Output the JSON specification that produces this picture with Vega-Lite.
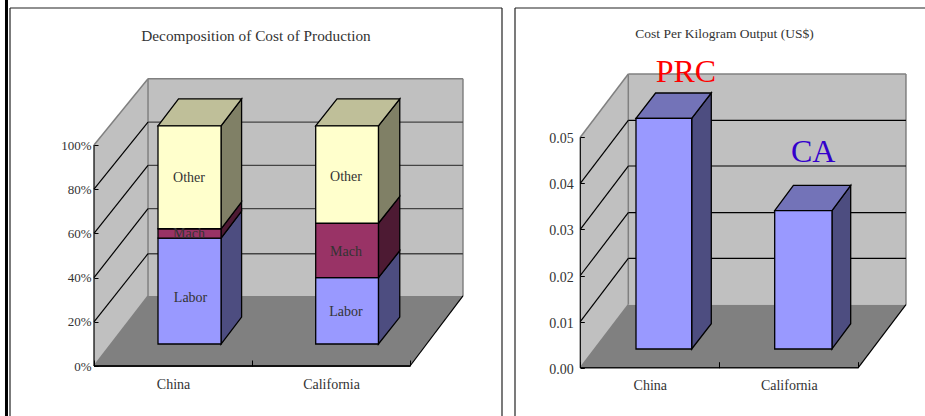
{
"$schema":"https://vega.github.io/schema/vega-lite/v6.json",
"padding":{"left":0,"top":-6,"right":0,"bottom":0},
"spacing":7,
"config":{"view":{"stroke":null},"font":"Liberation Serif"},
"datasets":{
"lWalls":[{"id":"side","tone":"wall","x":0,"y":0,"y2":100},{"id":"side","tone":"wall","x":0.3418,"y":31.7,"y2":130},{"id":"back","tone":"wall","x":0.3418,"y":31.7,"y2":130},{"id":"back","tone":"wall","x":2.335,"y":31.7,"y2":130}],
"lFloor":[{"id":"floor","tone":"floor","y":0,"x":0,"x2":2},{"id":"floor","tone":"floor","y":31.7,"x":0.3418,"x2":2.335}],
"lEdges":[{"id":"a","x":0,"y":100},{"id":"a","x":0.3418,"y":130},{"id":"b","x":0.3418,"y":130},{"id":"b","x":2.335,"y":130},{"id":"c","x":2.335,"y":31.7},{"id":"c","x":2.335,"y":130},{"id":"d","x":0.3418,"y":31.7},{"id":"d","x":0.3418,"y":130},{"id":"e","x":0,"y":0},{"id":"e","x":0.3418,"y":31.7}],
"lBack":[{"id":"g1","x":0.3418,"y":50.8},{"id":"g1","x":2.335,"y":50.8},{"id":"g2","x":0.3418,"y":71.2},{"id":"g2","x":2.335,"y":71.2},{"id":"g3","x":0.3418,"y":90.8},{"id":"g3","x":2.335,"y":90.8},{"id":"g4","x":0.3418,"y":110.4},{"id":"g4","x":2.335,"y":110.4}],
"lBlack":[{"id":"ya","x":0,"y":0},{"id":"ya","x":0,"y":100},{"id":"fr","x":2,"y":0},{"id":"fr","x":2.335,"y":31.7},{"id":"s1","x":0,"y":20},{"id":"s1","x":0.3418,"y":50.8},{"id":"s2","x":0,"y":40},{"id":"s2","x":0.3418,"y":71.2},{"id":"s3","x":0,"y":60},{"id":"s3","x":0.3418,"y":90.8},{"id":"s4","x":0,"y":80},{"id":"s4","x":0.3418,"y":110.4}],
"lBase":[{"x":0,"y":0},{"x":2,"y":0}],
"lSides":[
{"id":"c1","tone":"Labor side","x":0.804,"y":9.95,"y2":57.9},{"id":"c1","tone":"Labor side","x":0.934,"y":22.15,"y2":70.1},
{"id":"c2","tone":"Mach side","x":0.804,"y":57.9,"y2":62.1},{"id":"c2","tone":"Mach side","x":0.934,"y":70.1,"y2":74.3},
{"id":"c3","tone":"Other side","x":0.804,"y":62.1,"y2":108.7},{"id":"c3","tone":"Other side","x":0.934,"y":74.3,"y2":120.9},
{"id":"k1","tone":"Labor side","x":1.8,"y":9.95,"y2":40},{"id":"k1","tone":"Labor side","x":1.935,"y":22.15,"y2":52.2},
{"id":"k2","tone":"Mach side","x":1.8,"y":40,"y2":64.6},{"id":"k2","tone":"Mach side","x":1.935,"y":52.2,"y2":76.8},
{"id":"k3","tone":"Other side","x":1.8,"y":64.6,"y2":108.7},{"id":"k3","tone":"Other side","x":1.935,"y":76.8,"y2":120.9}],
"lTops":[{"id":"c","tone":"Other top","y":108.7,"x":0.405,"x2":0.804},{"id":"c","tone":"Other top","y":120.9,"x":0.535,"x2":0.934},{"id":"k","tone":"Other top","y":108.7,"x":1.403,"x2":1.8},{"id":"k","tone":"Other top","y":120.9,"x":1.538,"x2":1.935}],
"lFronts":[
{"tone":"Labor front","x":0.405,"x2":0.804,"y":9.95,"y2":57.9},{"tone":"Mach front","x":0.405,"x2":0.804,"y":57.9,"y2":62.1},{"tone":"Other front","x":0.405,"x2":0.804,"y":62.1,"y2":108.7},
{"tone":"Labor front","x":1.403,"x2":1.8,"y":9.95,"y2":40},{"tone":"Mach front","x":1.403,"x2":1.8,"y":40,"y2":64.6},{"tone":"Other front","x":1.403,"x2":1.8,"y":64.6,"y2":108.7}],
"lText":[{"label":"Other","x":0.601,"y":85.1},{"label":"Mach","x":0.601,"y":59.7},{"label":"Labor","x":0.611,"y":30.8},{"label":"Other","x":1.595,"y":85.5},{"label":"Mach","x":1.595,"y":51.6},{"label":"Labor","x":1.595,"y":24.4}],
"lFrame":[{"id":"l","x":-0.5316,"y":162},{"id":"l","x":-0.5316,"y":-22.62},{"id":"t","x":-0.5316,"y":162},{"id":"t","x":2.582,"y":162},{"id":"r","x":2.582,"y":162},{"id":"r","x":2.582,"y":-22.62}],
"lOuter":[{"x":-0.5538,"y":165.6},{"x":-0.5538,"y":-22.62}],
"rWalls":[{"id":"side","tone":"wall","x":0,"y":0,"y2":0.05},{"id":"side","tone":"wall","x":0.3453,"y":0.01367,"y2":0.0637},{"id":"back","tone":"wall","x":0.3453,"y":0.01367,"y2":0.0637},{"id":"back","tone":"wall","x":2.343,"y":0.01367,"y2":0.0637}],
"rFloor":[{"id":"floor","tone":"floor","y":0,"x":0,"x2":2},{"id":"floor","tone":"floor","y":0.01367,"x":0.3453,"x2":2.343}],
"rEdges":[{"id":"a","x":0,"y":0.05},{"id":"a","x":0.3453,"y":0.0637},{"id":"b","x":0.3453,"y":0.0637},{"id":"b","x":2.343,"y":0.0637},{"id":"c","x":2.343,"y":0.01367},{"id":"c","x":2.343,"y":0.0637},{"id":"d","x":0.3453,"y":0.01367},{"id":"d","x":0.3453,"y":0.0637},{"id":"e","x":0,"y":0},{"id":"e","x":0.3453,"y":0.01367}],
"rBlack":[{"id":"ya","x":0,"y":0},{"id":"ya","x":0,"y":0.05},{"id":"fr","x":2,"y":0},{"id":"fr","x":2.343,"y":0.01367},
{"id":"g1","x":0.3453,"y":0.02373},{"id":"g1","x":2.343,"y":0.02373},{"id":"g2","x":0.3453,"y":0.03362},{"id":"g2","x":2.343,"y":0.03362},{"id":"g3","x":0.3453,"y":0.04375},{"id":"g3","x":2.343,"y":0.04375},{"id":"g4","x":0.3453,"y":0.05367},{"id":"g4","x":2.343,"y":0.05367},
{"id":"s1","x":0,"y":0.01},{"id":"s1","x":0.3453,"y":0.02373},{"id":"s2","x":0,"y":0.02},{"id":"s2","x":0.3453,"y":0.03362},{"id":"s3","x":0,"y":0.03},{"id":"s3","x":0.3453,"y":0.04375},{"id":"s4","x":0,"y":0.04},{"id":"s4","x":0.3453,"y":0.05367}],
"rBase":[{"x":0,"y":0},{"x":2,"y":0}],
"rSides":[{"id":"c","tone":"Labor side","x":0.8014,"y":0.00406,"y2":0.0541},{"id":"c","tone":"Labor side","x":0.9424,"y":0.00955,"y2":0.05959},{"id":"k","tone":"Labor side","x":1.8108,"y":0.00406,"y2":0.03406},{"id":"k","tone":"Labor side","x":1.9454,"y":0.00955,"y2":0.03955}],
"rTops":[{"id":"c","tone":"Labor top","y":0.0541,"x":0.4007,"x2":0.8014},{"id":"c","tone":"Labor top","y":0.05959,"x":0.5417,"x2":0.9424},{"id":"k","tone":"Labor top","y":0.03406,"x":1.3986,"x2":1.8108},{"id":"k","tone":"Labor top","y":0.03955,"x":1.5332,"x2":1.9454}],
"rFronts":[{"tone":"Labor front","x":0.4007,"x2":0.8014,"y":0.00406,"y2":0.0541},{"tone":"Labor front","x":1.3986,"x2":1.8108,"y":0.00406,"y2":0.03406}],
"rFrame":[{"id":"l","x":-0.4698,"y":0.07803},{"id":"l","x":-0.4698,"y":-0.010477},{"id":"t","x":-0.4698,"y":0.07803},{"id":"t","x":2.48,"y":0.07803}]
},
"hconcat":[
{"width":492,"height":408,
"title":{"text":"Decomposition of Cost of Production","frame":"group","anchor":"middle","offset":-57,"fontSize":15.3,"fontWeight":"normal","font":"Liberation Serif","color":"#333333","baseline":"middle"},
"encoding":{
"x":{"field":"x","type":"quantitative","scale":{"domain":[-0.5316,2.582],"nice":false,"zero":false},"axis":{"title":null,"grid":false,"domain":false,"zindex":1,"offset":-50,"values":[0,0.5,1,1.5,2],"tickSize":-6,"tickColor":"#000000","tickOpacity":{"condition":{"test":"datum.value==0.5||datum.value==1.5","value":0},"value":1},"labelExpr":"datum.value==0.5?'China':datum.value==1.5?'California':''","labelFontSize":14,"labelColor":"#333333","labelPadding":17,"labelFont":"Liberation Serif"}},
"y":{"field":"y","type":"quantitative","scale":{"domain":[-22.62,162],"nice":false,"zero":false},"axis":{"title":null,"grid":false,"domain":false,"zindex":1,"offset":-84,"values":[0,20,40,60,80,100],"tickSize":-4,"tickColor":"#000000","labelExpr":"datum.value+'%'","labelFontSize":13,"labelColor":"#333333","labelPadding":7,"labelFont":"Liberation Serif"}}
},
"layer":[
{"data":{"name":"lWalls"},"mark":{"type":"area"},"encoding":{"y2":{"field":"y2"},"detail":{"field":"id"},"color":{"field":"tone","scale":{"domain":["wall","floor","Labor front","Labor side","Labor top","Mach front","Mach side","Other front","Other side","Other top"],"range":["#C0C0C0","#808080","#9999FF","#4D4D80","#7373B8","#993366","#4D1A33","#FFFFCC","#808066","#BFBF99"]},"legend":null}}},
{"data":{"name":"lFloor"},"mark":{"type":"area","orient":"horizontal"},"encoding":{"x2":{"field":"x2"},"detail":{"field":"id"},"color":{"field":"tone","legend":null}}},
{"data":{"name":"lEdges"},"mark":{"type":"line","color":"#808080","strokeWidth":1.5},"encoding":{"detail":{"field":"id"}}},
{"data":{"name":"lBack"},"mark":{"type":"line","color":"#444444","strokeWidth":1.3},"encoding":{"detail":{"field":"id"}}},
{"data":{"name":"lBlack"},"mark":{"type":"line","color":"#000000","strokeWidth":1.2},"encoding":{"detail":{"field":"id"}}},
{"data":{"name":"lBase"},"mark":{"type":"line","color":"#111111","strokeWidth":2},"encoding":{}},
{"data":{"name":"lSides"},"mark":{"type":"area","stroke":"#000000","strokeWidth":1.3},"encoding":{"y2":{"field":"y2"},"detail":{"field":"id"},"color":{"field":"tone","legend":null}}},
{"data":{"name":"lTops"},"mark":{"type":"area","orient":"horizontal","stroke":"#000000","strokeWidth":1.3},"encoding":{"x2":{"field":"x2"},"detail":{"field":"id"},"color":{"field":"tone","legend":null}}},
{"data":{"name":"lFronts"},"mark":{"type":"rect","stroke":"#000000","strokeWidth":1.3},"encoding":{"x2":{"field":"x2"},"y2":{"field":"y2"},"color":{"field":"tone","legend":null}}},
{"data":{"name":"lText"},"mark":{"type":"text","fontSize":14,"color":"#333333","font":"Liberation Serif"},"encoding":{"text":{"field":"label"}}},
{"data":{"name":"lFrame"},"mark":{"type":"line","color":"#222222","strokeWidth":1.2},"encoding":{"detail":{"field":"id"}}},
{"data":{"name":"lOuter"},"mark":{"type":"line","color":"#000000","strokeWidth":3},"encoding":{}}
],
"resolve":{"scale":{"color":"shared"}}
},
{"width":410,"height":408,
"title":{"text":"Cost Per Kilogram Output (US$)","frame":"group","anchor":"middle","offset":-42,"dx":4.5,"fontSize":13.5,"fontWeight":"normal","font":"Liberation Serif","color":"#333333","baseline":"middle"},
"encoding":{
"x":{"field":"x","type":"quantitative","scale":{"domain":[-0.4698,2.48],"nice":false,"zero":false},"axis":{"title":null,"grid":false,"domain":false,"zindex":1,"offset":-48.3,"values":[0,0.5,1,1.5,2],"tickSize":-6,"tickColor":"#000000","tickOpacity":{"condition":{"test":"datum.value==0.5||datum.value==1.5","value":0},"value":1},"labelExpr":"datum.value==0.5?'China':datum.value==1.5?'California':''","labelFontSize":14,"labelColor":"#333333","labelPadding":17,"labelFont":"Liberation Serif"}},
"y":{"field":"y","type":"quantitative","scale":{"domain":[-0.010477,0.07803],"nice":false,"zero":false},"axis":{"title":null,"grid":false,"domain":false,"zindex":1,"offset":-65.3,"values":[0,0.01,0.02,0.03,0.04,0.05],"tickSize":-4,"tickColor":"#000000","format":".2f","labelFontSize":14,"labelColor":"#333333","labelPadding":11,"labelOffset":1.5,"labelFont":"Liberation Serif"}}
},
"layer":[
{"data":{"name":"rWalls"},"mark":{"type":"area"},"encoding":{"y2":{"field":"y2"},"detail":{"field":"id"},"color":{"field":"tone","scale":{"domain":["wall","floor","Labor front","Labor side","Labor top"],"range":["#C0C0C0","#808080","#9999FF","#4D4D80","#7373B8"]},"legend":null}}},
{"data":{"name":"rFloor"},"mark":{"type":"area","orient":"horizontal"},"encoding":{"x2":{"field":"x2"},"detail":{"field":"id"},"color":{"field":"tone","legend":null}}},
{"data":{"name":"rEdges"},"mark":{"type":"line","color":"#808080","strokeWidth":1.5},"encoding":{"detail":{"field":"id"}}},
{"data":{"name":"rBlack"},"mark":{"type":"line","color":"#000000","strokeWidth":1.2},"encoding":{"detail":{"field":"id"}}},
{"data":{"name":"rBase"},"mark":{"type":"line","color":"#111111","strokeWidth":1.6},"encoding":{}},
{"data":{"name":"rSides"},"mark":{"type":"area","stroke":"#000000","strokeWidth":1.3},"encoding":{"y2":{"field":"y2"},"detail":{"field":"id"},"color":{"field":"tone","legend":null}}},
{"data":{"name":"rTops"},"mark":{"type":"area","orient":"horizontal","stroke":"#000000","strokeWidth":1.3},"encoding":{"x2":{"field":"x2"},"detail":{"field":"id"},"color":{"field":"tone","legend":null}}},
{"data":{"name":"rFronts"},"mark":{"type":"rect","stroke":"#000000","strokeWidth":1.3},"encoding":{"x2":{"field":"x2"},"y2":{"field":"y2"},"color":{"field":"tone","legend":null}}},
{"data":{"values":[{"label":"PRC","x":0.76,"y":0.0642}]},"mark":{"type":"text","fontSize":32,"color":"#FF0000","font":"Liberation Serif"},"encoding":{"text":{"field":"label"}}},
{"data":{"values":[{"label":"CA","x":1.675,"y":0.0468}]},"mark":{"type":"text","fontSize":32,"color":"#3300CC","font":"Liberation Serif"},"encoding":{"text":{"field":"label"}}},
{"data":{"name":"rFrame"},"mark":{"type":"line","color":"#222222","strokeWidth":1.2},"encoding":{"detail":{"field":"id"}}}
]
}
]
}
